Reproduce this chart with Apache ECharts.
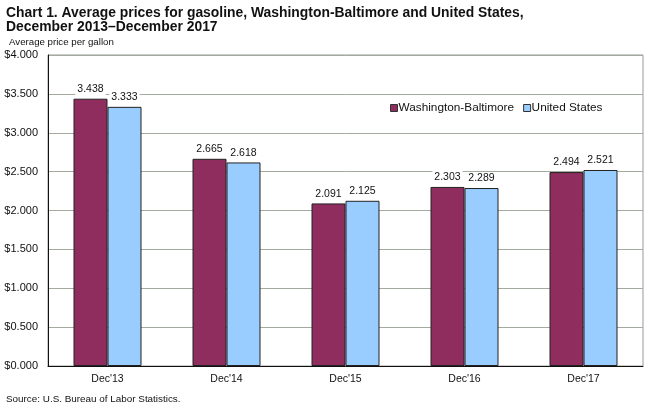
<!doctype html>
<html>
<head>
	<meta charset="utf-8">
	<title>Chart 1</title>
	<script src="https://cdn.jsdelivr.net/npm/echarts@6/dist/echarts.min.js"></script>
	<style>
		html, body { margin: 0; padding: 0; background: #fff; }
		#main { width: 649px; height: 408px; }
	</style>
</head>
<body>
	<div id="main"></div>
	<script>
		var categories = ["Dec'13", "Dec'14", "Dec'15", "Dec'16", "Dec'17"];
		var washington = [3.438, 2.665, 2.091, 2.303, 2.494];
		var unitedStates = [3.333, 2.618, 2.125, 2.289, 2.521];
		var seriesNames = ['Washington-Baltimore', 'United States'];
		var titleLines = ['Chart 1. Average prices for gasoline, Washington-Baltimore and United States,', 'December 2013\u2013December 2017'];
		var font = '"Liberation Sans", Arial, sans-serif';

		function barSeries(name, values, color) {
			return {
				name: name,
				type: 'bar',
				data: values,
				barWidth: 34,
				barGap: 0,
				itemStyle: { color: color, borderColor: '#222', borderWidth: 1 },
				label: {
					show: true,
					position: 'top',
					distance: 3,
					color: '#111',
					fontFamily: font,
					fontSize: 10.5,
					backgroundColor: '#fff',
					padding: [1, 2, 1, 2],
					formatter: function (p) { return p.value.toFixed(3); }
				}
			};
		}

		var chart = echarts.init(document.getElementById('main'), null, { renderer: 'canvas' });
		chart.setOption({
			animation: false,
			backgroundColor: '#fff',
			textStyle: { fontFamily: font },
			title: [
				{
					text: titleLines.join('\n'), left: 6, top: 6, padding: 0,
					textStyle: { fontFamily: font, fontSize: 13.9, fontWeight: 'bold', color: '#111', lineHeight: 14 }
				},
				{
					text: 'Average price per gallon', left: 9, top: 37, padding: 0,
					textStyle: { fontFamily: font, fontSize: 9.7, fontWeight: 'normal', color: '#111' }
				},
				{
					text: 'Source: U.S. Bureau of Labor Statistics.', left: 6, top: 394, padding: 0,
					textStyle: { fontFamily: font, fontSize: 9.9, fontWeight: 'normal', color: '#111' }
				}
			],
			legend: {
				left: 385, top: 97, itemGap: 9, itemWidth: 7, itemHeight: 7,
				icon: 'rect', data: seriesNames,
				itemStyle: { borderColor: '#333', borderWidth: 1 },
				textStyle: { fontFamily: font, fontSize: 11.8, color: '#111', padding: [0, 0, 0, -4] }
			},
			grid: { left: 48, right: 6, top: 55, bottom: 42, show: true, borderColor: '#999', borderWidth: 1 },
			xAxis: {
				type: 'category',
				data: categories,
				axisTick: { show: false },
				axisLine: { lineStyle: { color: '#111', width: 1 } },
				axisLabel: { color: '#111', fontSize: 10.5, margin: 8, fontFamily: font }
			},
			yAxis: {
				type: 'value',
				min: 0,
				max: 4,
				interval: 0.5,
				axisLine: { show: true, lineStyle: { color: '#111', width: 1 } },
				axisTick: { show: false },
				axisLabel: {
					color: '#111', fontSize: 11, margin: 10, fontFamily: font,
					formatter: function (v) { return '$' + v.toFixed(3); }
				},
				splitLine: { lineStyle: { color: '#a3ab9e', width: 1 } }
			},
			series: [
				barSeries(seriesNames[0], washington, '#8f2d5e'),
				barSeries(seriesNames[1], unitedStates, '#99ccff')
			]
		});
	</script>
</body>
</html>
